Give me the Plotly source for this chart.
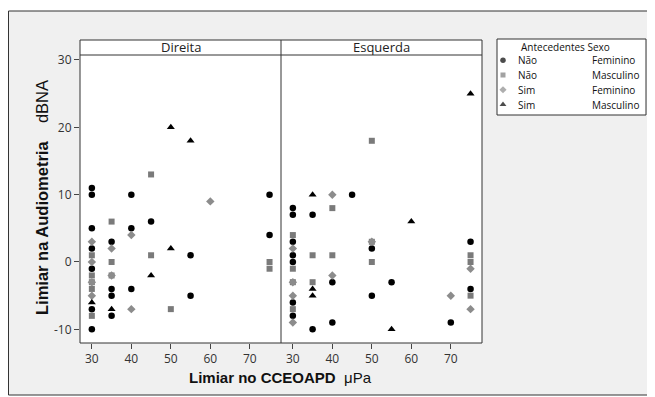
import plotly.graph_objects as go

# ---------------- data ----------------
lados = ["Direita", "Esquerda"]
antecedentes = ["Não", "Não", "Sim", "Sim"]
sexos = ["Feminino", "Masculino", "Feminino", "Masculino"]

x_ticks = [30, 40, 50, 60, 70]
y_ticks = [-10, 0, 10, 20, 30]

# Direita
dir_nao_fem_x = [30, 30, 30, 30, 30, 30, 30, 35, 35, 35, 35, 40, 40, 40, 45, 55, 55, 75, 75]
dir_nao_fem_y = [11, 10, 5, 2, -1, -7, -10, 3, -4, -5, -8, 10, 5, -4, 6, 1, -5, 10, 4]
dir_nao_masc_x = [30, 30, 30, 30, 30, 35, 35, 35, 45, 45, 50, 75, 75]
dir_nao_masc_y = [1, -2, -3, -4, -8, 6, 0, -2, 13, 1, -7, 0, -1]
dir_sim_fem_x = [30, 30, 30, 30, 35, 35, 40, 40, 60]
dir_sim_fem_y = [3, 0, -3, -5, 2, -2, 4, -7, 9]
dir_sim_masc_x = [30, 35, 45, 50, 50, 55]
dir_sim_masc_y = [-6, -7, -2, 20, 2, 18]

# Esquerda
esq_nao_fem_x = [30, 30, 30, 30, 30, 30, 30, 35, 35, 40, 40, 45, 50, 50, 55, 70, 75, 75]
esq_nao_fem_y = [8, 7, 3, 1, 0, -6, -8, 7, -10, -3, -9, 10, 2, -5, -3, -9, 3, -4]
esq_nao_masc_x = [30, 30, 30, 30, 35, 35, 40, 40, 50, 50, 50, 75, 75, 75]
esq_nao_masc_y = [4, -1, -3, -7, 1, -3, 8, 1, 18, 3, 0, 1, 0, -5]
esq_sim_fem_x = [30, 30, 30, 30, 40, 40, 50, 70, 75, 75]
esq_sim_fem_y = [2, -3, -5, -9, 10, -2, 3, -5, -1, -7]
esq_sim_masc_x = [35, 35, 35, 55, 60, 75]
esq_sim_masc_y = [10, -4, -5, -10, 6, 25]

# ---------------- styles ----------------
simbolos = ["circle", "square", "diamond", "triangle-up"]
cores = ["#000000", "#7a7a7a", "#8c8c8c", "#000000"]
tamanhos = [6.5, 6, 6.5, 7]

series = {
    "Direita": [(dir_nao_fem_x, dir_nao_fem_y), (dir_nao_masc_x, dir_nao_masc_y),
                (dir_sim_fem_x, dir_sim_fem_y), (dir_sim_masc_x, dir_sim_masc_y)],
    "Esquerda": [(esq_nao_fem_x, esq_nao_fem_y), (esq_nao_masc_x, esq_nao_masc_y),
                 (esq_sim_fem_x, esq_sim_fem_y), (esq_sim_masc_x, esq_sim_masc_y)],
}

# page body has an 8px margin: figure is drawn 8px in from the window corner
W, H = 647, 389
ML, MR, MT, MB = 72, 8, 47, 54
PW = W - ML - MR
PH = H - MT - MB


def px_x(p):  # window pixel -> paper
    return (p - 80) / PW


def px_y(p):
    return (343 - p) / PH


FONT = "Open Sans"
fig = go.Figure()

axes = [("x", "y"), ("x2", "y2")]
for lado, (xa, ya) in zip(lados, axes):
    for i in range(4):
        xs, ys = series[lado][i]
        fig.add_trace(go.Scatter(
            x=xs, y=ys, mode="markers", xaxis=xa, yaxis=ya, showlegend=False,
            marker=dict(symbol=simbolos[i], color=cores[i], size=tamanhos[i], line=dict(width=0)),
            name=f"{antecedentes[i]} {sexos[i]}", cliponaxis=False,
        ))

# legend markers on an auxiliary axis
fig.add_trace(go.Scatter(
    x=[0] * len(simbolos), y=list(range(len(simbolos))), mode="markers",
    xaxis="x3", yaxis="y3", showlegend=False, hoverinfo="skip",
    marker=dict(symbol=simbolos, color=cores, size=[s - 1 for s in tamanhos], line=dict(width=0)),
))

x_split = px_x(281)
x_end = px_x(482)
xr = [27.0, 77.9]
yr = [-12.03, 30.74]
tickfont = dict(family=FONT, size=12, color="#333333")

common_x = dict(range=xr, tickvals=x_ticks, ticktext=[str(v) for v in x_ticks],
                ticks="outside", ticklen=5, tickcolor="#444444",
                showgrid=False, zeroline=False, showline=False, tickfont=tickfont)
fig.update_layout(
    width=W, height=H,
    margin=dict(l=ML, r=MR, t=MT, b=MB),
    paper_bgcolor="#ffffff", plot_bgcolor="#ffffff",
    xaxis=dict(domain=[0, x_split], **common_x),
    xaxis2=dict(domain=[x_split, x_end], **common_x),
    yaxis=dict(range=yr, tickvals=y_ticks, ticktext=[str(v) for v in y_ticks],
               ticks="outside", ticklen=5, tickcolor="#444444",
               showgrid=False, zeroline=False, showline=False, tickfont=tickfont),
    yaxis2=dict(range=yr, anchor="x2", showticklabels=False, showgrid=False, zeroline=False,
                showline=False, ticks=""),
    xaxis3=dict(domain=[px_x(503) - 0.01, px_x(503) + 0.01], range=[-1, 1], visible=False,
                anchor="y3"),
    yaxis3=dict(domain=[px_y(112), 1.0], range=[3.5, -0.35], visible=False, anchor="x3"),
    showlegend=False,
)

LINE = "#333333"
shapes = []
# outer frame with gray fill
shapes.append(dict(type="rect", xref="paper", yref="paper", layer="below",
                   x0=px_x(8.5), x1=px_x(650), y0=px_y(395), y1=px_y(11),
                   fillcolor="#f0f0f0", line=dict(color=LINE, width=1)))
# white panels
shapes.append(dict(type="rect", xref="paper", yref="paper", layer="below",
                   x0=0, x1=x_end, y0=0, y1=px_y(40),
                   fillcolor="#ffffff", line=dict(width=0)))
# panel border
shapes.append(dict(type="rect", xref="paper", yref="paper", layer="above",
                   x0=0, x1=x_end, y0=0, y1=px_y(40),
                   line=dict(color=LINE, width=1)))
# strip bottom line
shapes.append(dict(type="line", xref="paper", yref="paper", layer="above",
                   x0=0, x1=x_end, y0=1, y1=1, line=dict(color=LINE, width=1)))
# divider
shapes.append(dict(type="line", xref="paper", yref="paper", layer="above",
                   x0=x_split, x1=x_split, y0=0, y1=px_y(40), line=dict(color=LINE, width=1)))
# legend box
shapes.append(dict(type="rect", xref="paper", yref="paper", layer="below",
                   x0=px_x(497), x1=px_x(646), y0=px_y(115), y1=px_y(39),
                   fillcolor="#ffffff", line=dict(color=LINE, width=1)))
fig.update_layout(shapes=shapes)

ann = []
for lado, cx in zip(lados, [x_split / 2, (x_split + x_end) / 2]):
    ann.append(dict(text=lado, xref="paper", yref="paper", x=cx, y=px_y(47.5),
                    xanchor="center", yanchor="middle",
                    showarrow=False, font=dict(family=FONT, size=13, color="#222222")))

ann.append(dict(text="<b>Limiar no CCEOAPD</b>  μPa", xref="paper", yref="paper",
                x=px_x(280), y=px_y(377), xanchor="center", yanchor="middle", showarrow=False,
                font=dict(family="Liberation Sans", size=15, color="#111111")))
ann.append(dict(text="<b>Limiar na Audiometria</b>&nbsp;&nbsp;&nbsp; dBNA", xref="paper", yref="paper",
                x=px_x(42), y=px_y(198), xanchor="center", yanchor="middle",
                showarrow=False, textangle=-90,
                font=dict(family="Liberation Sans", size=16.5, color="#111111")))

lfont = dict(family=FONT, size=10, color="#111111")
ann.append(dict(text="Antecedentes Sexo", xref="paper", yref="paper", x=px_x(519), y=px_y(47),
                xanchor="left", yanchor="middle", showarrow=False, font=lfont))
for i in range(len(antecedentes)):
    ann.append(dict(text=antecedentes[i], xref="paper", yref="y3", x=px_x(516), y=i,
                    xanchor="left", yanchor="middle", showarrow=False, font=lfont))
    ann.append(dict(text=sexos[i], xref="paper", yref="y3", x=px_x(590), y=i,
                    xanchor="left", yanchor="middle", showarrow=False, font=lfont))
fig.update_layout(annotations=ann)

fig.write_html("out.html")
